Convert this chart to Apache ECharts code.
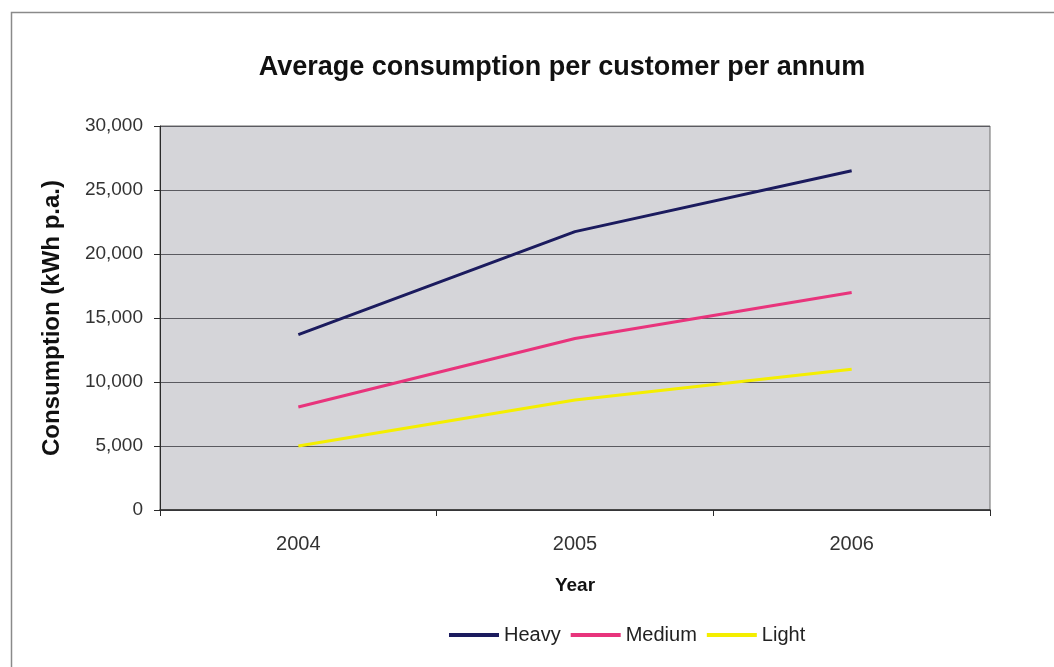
<!DOCTYPE html>
<html>
<head>
<meta charset="utf-8">
<script src="https://cdn.jsdelivr.net/npm/echarts@6/dist/echarts.min.js"></script>
<style>
  html, body { margin: 0; padding: 0; background: #ffffff; }
  #chart { width: 1054px; height: 667px; }
</style>
</head>
<body>
<div id="chart"></div>
<script>
// Average consumption per customer per annum (kWh p.a.)
const years = ['2004', '2005', '2006'];
const heavy = [13700, 21750, 26500];
const medium = [8050, 13400, 17000];
const light = [5000, 8600, 11000];

const seriesNames = ['Heavy', 'Medium', 'Light'];
const seriesColors = ['#1b1b5e', '#e8347c', '#f4ee00'];
const seriesData = [heavy, medium, light];

const font = 'Liberation Sans, Arial, Helvetica, sans-serif';

const chart = echarts.init(document.getElementById('chart'), null, { renderer: 'canvas' });

chart.setOption({
  backgroundColor: '#ffffff',
  animation: false,
  graphic: [{
    type: 'rect',
    shape: { x: 11.5, y: 12.5, width: 1100, height: 700 },
    style: { fill: 'none', stroke: '#8a8a8a', lineWidth: 1.5 },
    silent: true
  }],
  title: {
    text: 'Average consumption per customer per annum',
    left: 557,
    top: 49,
    textAlign: 'center',
    textStyle: { fontFamily: font, fontSize: 27, fontWeight: 'bold', color: '#111' }
  },
  legend: {
    left: 444,
    top: 620,
    itemWidth: 50,
    itemHeight: 4,
    itemGap: 10,
    icon: 'rect',
    textStyle: { fontFamily: font, fontSize: 20, color: '#222', padding: [0, 0, 0, 0] },
    data: seriesNames
  },
  grid: {
    left: 160,
    right: 64,
    top: 126,
    bottom: 157,
    show: true,
    backgroundColor: '#d5d5d9',
    borderColor: '#6d6d6d',
    borderWidth: 1
  },
  xAxis: {
    type: 'category',
    data: years,
    boundaryGap: true,
    name: 'Year',
    nameLocation: 'middle',
    nameGap: 66,
    nameTextStyle: { fontFamily: font, fontSize: 19, fontWeight: 'bold', color: '#111' },
    axisLine: { lineStyle: { color: '#2a2a2a', width: 1.5 } },
    axisTick: { show: true, length: 6, alignWithLabel: false, lineStyle: { color: '#2a2a2a' } },
    axisLabel: { fontFamily: font, fontSize: 20, color: '#333', margin: 24 },
    splitLine: { show: false }
  },
  yAxis: {
    type: 'value',
    min: 0,
    max: 30000,
    interval: 5000,
    name: 'Consumption (kWh p.a.)',
    nameLocation: 'middle',
    nameGap: 96,
    nameRotate: 90,
    nameTextStyle: { fontFamily: font, fontSize: 24, fontWeight: 'bold', color: '#111' },
    axisLine: { show: true, lineStyle: { color: '#2a2a2a', width: 1 } },
    axisTick: { show: true, length: 6, lineStyle: { color: '#2a2a2a' } },
    axisLabel: {
      fontFamily: font, fontSize: 19, color: '#333', margin: 17,
      formatter: v => v.toLocaleString('en-US')
    },
    splitLine: { show: true, lineStyle: { color: '#5a5a60', width: 1 } }
  },
  series: seriesNames.map((name, i) => ({
    name: name,
    type: 'line',
    data: seriesData[i],
    color: seriesColors[i],
    symbol: 'none',
    lineStyle: { width: 3, color: seriesColors[i] },
    smooth: false
  }))
});
</script>
</body>
</html>
